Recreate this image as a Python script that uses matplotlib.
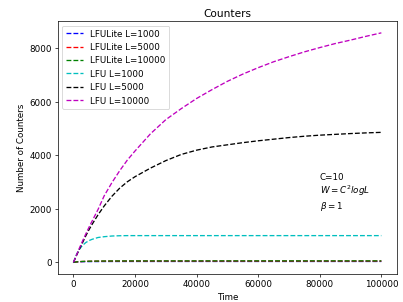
import numpy as np
import matplotlib.pyplot as plt

# time samples
t = [0, 1000, 2000, 3000, 4000, 5000, 6000, 8000, 10000, 12500, 15000, 17500, 20000,
     25000, 30000, 35000, 40000, 45000, 50000, 55000, 60000, 65000, 70000, 75000,
     80000, 85000, 90000, 95000, 100000]

# LFULite (stays small)
lite_1000 = [0, 15, 22, 26, 28, 30, 31, 32, 33, 34, 34, 35, 35,
             35, 35, 35, 35, 35, 35, 35, 35, 35, 35, 35, 35, 35, 35, 35, 35]
lite_5000 = [0, 18, 28, 34, 38, 41, 43, 46, 47, 48, 49, 50, 50,
             50, 50, 50, 50, 50, 50, 50, 50, 50, 50, 50, 50, 50, 50, 50, 50]
lite_10000 = [0, 20, 30, 37, 42, 45, 47, 50, 52, 53, 54, 55, 55,
              56, 56, 56, 56, 57, 57, 57, 57, 57, 57, 57, 57, 57, 57, 57, 57]

# LFU
lfu_1000 = [0, 300, 500, 640, 740, 810, 860, 930, 960, 985, 995, 1000, 1000,
            1000, 1000, 1000, 1000, 1000, 1000, 1000, 1000, 1000, 1000, 1000,
            1000, 1000, 1000, 1000, 1000]
lfu_5000 = [0, 260, 510, 750, 990, 1210, 1410, 1780, 2110, 2470, 2770, 3010, 3200,
            3520, 3800, 4030, 4190, 4310, 4390, 4470, 4540, 4600, 4660, 4710,
            4750, 4780, 4810, 4835, 4855]
lfu_10000 = [0, 280, 550, 810, 1060, 1300, 1530, 1980, 2490, 2980, 3420, 3820, 4160,
             4800, 5330, 5740, 6120, 6450, 6760, 7030, 7270, 7490, 7680, 7860,
             8020, 8170, 8300, 8440, 8570]

fig = plt.figure(figsize=(6.4, 4.8), dpi=63)
plt.subplots_adjust(left=0.144, right=0.984, top=0.928, bottom=0.093)

plt.plot(t, lite_1000, "b--", label="LFULite L=1000")
plt.plot(t, lite_5000, "r--", label="LFULite L=5000")
plt.plot(t, lite_10000, "g--", label="LFULite L=10000")
plt.plot(t, lfu_1000, "c--", label="LFU L=1000")
plt.plot(t, lfu_5000, "k--", label="LFU L=5000")
plt.plot(t, lfu_10000, "m--", label="LFU L=10000")

plt.text(80000, 2000, "C=10\n$W=C^2logL$\n$\\beta=1$")

plt.title("Counters")
plt.xlabel("Time")
plt.ylabel("Number of Counters")
plt.legend(loc="upper left")
plt.savefig("out.png")
